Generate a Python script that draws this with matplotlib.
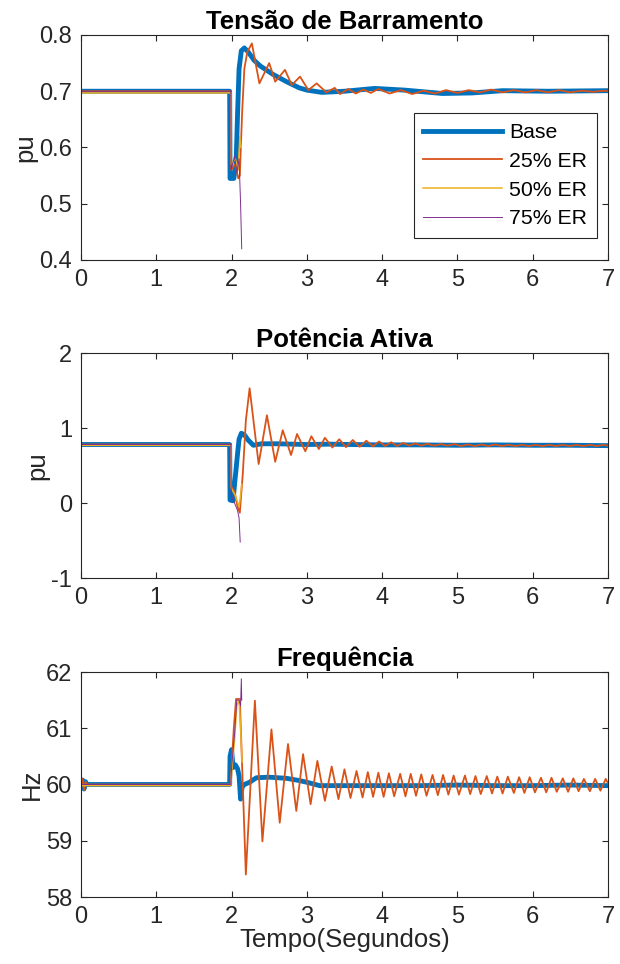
import matplotlib
matplotlib.use("Agg")
import matplotlib.pyplot as plt

plt.rcParams['font.family'] = ['Liberation Sans', 'DejaVu Sans']
plt.rcParams['axes.unicode_minus'] = False

KOLORS = ['#0072BD', '#D95319', '#EDB120', '#7E2F8E']
LABELS = ['Base', '25% ER', '50% ER', '75% ER']
WIDTHS = [3.5, 1.3, 1.1, 0.7]

# ---- Tensao de Barramento (pu) ----
v_base_t = [0, 1.975, 1.98, 2.03, 2.06, 2.08, 2.10, 2.13, 2.17, 2.22,
            2.30, 2.38, 2.55, 2.73, 2.9, 3.0, 3.2, 3.5, 3.9, 4.3,
            4.8, 5.2, 5.6, 6.2, 7.0]
v_base = [0.70, 0.70, 0.545, 0.545, 0.57, 0.66, 0.74, 0.772, 0.777, 0.77,
          0.755, 0.745, 0.73, 0.717, 0.706, 0.702, 0.698, 0.700, 0.705, 0.702,
          0.696, 0.697, 0.701, 0.700, 0.701]
v_25_t = [0, 1.99, 1.995, 2.05, 2.09, 2.11, 2.14, 2.17, 2.21, 2.27,
          2.37, 2.50, 2.58, 2.71, 2.80, 2.91, 3.02, 3.13, 3.26, 3.37,
          3.44, 3.55, 3.65, 3.75, 3.85, 3.95, 4.1, 4.25, 4.4, 4.55,
          4.7, 4.85, 5.0, 5.15, 5.3, 5.45, 5.6, 5.75, 5.9, 6.05,
          6.2, 6.35, 6.5, 6.65, 6.8, 6.95, 7.0]
v_25 = [0.70, 0.70, 0.56, 0.57, 0.545, 0.55, 0.66, 0.74, 0.77, 0.785,
        0.714, 0.75, 0.717, 0.738, 0.711, 0.726, 0.702, 0.714, 0.698, 0.706,
        0.695, 0.704, 0.696, 0.703, 0.697, 0.704, 0.696, 0.702, 0.695, 0.701,
        0.696, 0.702, 0.697, 0.702, 0.698, 0.703, 0.698, 0.702, 0.698, 0.702,
        0.698, 0.702, 0.698, 0.701, 0.699, 0.701, 0.70]
v_50_t = [0, 1.99, 1.995, 2.05, 2.09, 2.11, 2.125]
v_50 = [0.697, 0.697, 0.57, 0.58, 0.56, 0.62, 0.60]
v_75_t = [0, 1.99, 1.995, 2.04, 2.07, 2.10, 2.12, 2.135]
v_75 = [0.70, 0.70, 0.56, 0.585, 0.555, 0.58, 0.50, 0.42]

# ---- Potencia Ativa (pu) ----
p_base_t = [0, 1.975, 1.98, 2.02, 2.04, 2.06, 2.08, 2.10, 2.13, 2.17,
            2.22, 2.29, 2.4, 2.6, 2.8, 3.0, 3.3, 3.6, 4.0, 4.5,
            5.0, 5.5, 6.0, 6.5, 7.0]
p_base = [0.78, 0.78, 0.04, 0.03, 0.25, 0.45, 0.66, 0.85, 0.93, 0.91,
          0.84, 0.77, 0.79, 0.79, 0.785, 0.78, 0.785, 0.78, 0.775, 0.775,
          0.77, 0.775, 0.77, 0.77, 0.765]
p_25_t = [0, 1.99, 1.995, 2.04, 2.08, 2.11, 2.15, 2.19, 2.24, 2.36,
          2.47, 2.58, 2.68, 2.79, 2.87, 2.98, 3.06, 3.16, 3.24, 3.34,
          3.43, 3.52, 3.61, 3.70, 3.79, 3.88, 3.96, 4.04, 4.12, 4.20,
          4.28, 4.36, 4.44, 4.52, 4.60, 4.69, 4.78, 4.87, 4.96, 5.05,
          5.14, 5.23, 5.32, 5.41, 5.50, 5.59, 5.68, 5.77, 5.86, 5.95,
          6.04, 6.13, 6.22, 6.31, 6.40, 6.49, 6.58, 6.67, 6.76, 6.85,
          6.94, 7.0]
p_25 = [0.78, 0.78, 0.22, 0.15, -0.05, -0.13, 0.40, 1.10, 1.53, 0.52,
        1.17, 0.55, 0.97, 0.64, 0.92, 0.69, 0.89, 0.72, 0.87, 0.74,
        0.85, 0.745, 0.84, 0.75, 0.83, 0.755, 0.82, 0.76, 0.81, 0.76,
        0.80, 0.765, 0.795, 0.765, 0.79, 0.765, 0.785, 0.765, 0.785, 0.76,
        0.78, 0.76, 0.78, 0.76, 0.78, 0.76, 0.775, 0.76, 0.775, 0.76,
        0.775, 0.76, 0.775, 0.76, 0.775, 0.76, 0.775, 0.76, 0.775, 0.76,
        0.775, 0.765]
p_50_t = [0, 1.99, 1.995, 2.05, 2.10, 2.12, 2.135]
p_50 = [0.77, 0.77, 0.20, 0.10, -0.05, 0.10, 0.25]
p_75_t = [0, 1.99, 1.995, 2.04, 2.08, 2.10, 2.115]
p_75 = [0.78, 0.78, 0.10, 0.0, -0.10, -0.20, -0.52]

# ---- Frequencia (Hz) ----
f_base_t = [0, 0.02, 0.04, 0.06, 0.08, 1.975, 1.98, 2.00, 2.02, 2.05,
            2.08, 2.10, 2.12, 2.14, 2.17, 2.24, 2.33, 2.5, 2.73, 2.9,
            3.0, 3.17, 3.5, 4.0, 4.5, 5.0, 5.5, 6.0, 6.5, 7.0]
f_base = [60.0, 60.08, 59.92, 60.05, 60.0, 60.0, 60.5, 60.62, 60.3, 60.35,
          60.28, 60.15, 59.74, 59.95, 60.0, 60.04, 60.12, 60.13, 60.11, 60.07,
          60.04, 59.98, 59.98, 59.98, 59.98, 59.99, 59.98, 59.98, 59.99, 59.98]
f_25_t = [0, 0.02, 0.04, 0.06, 0.08, 1.99, 2.00, 2.03, 2.06, 2.11,
          2.19, 2.31, 2.41, 2.53, 2.64, 2.75, 2.86, 2.95, 3.05, 3.14,
          3.24, 3.33, 3.42, 3.50, 3.58, 3.66, 3.74, 3.81, 3.88, 3.95,
          4.02, 4.09, 4.16, 4.24, 4.31, 4.38, 4.45, 4.52, 4.59, 4.67,
          4.74, 4.81, 4.88, 4.95, 5.02, 5.10, 5.17, 5.24, 5.31, 5.39,
          5.46, 5.53, 5.60, 5.67, 5.75, 5.82, 5.89, 5.96, 6.03, 6.11,
          6.18, 6.25, 6.32, 6.40, 6.47, 6.54, 6.61, 6.68, 6.76, 6.83,
          6.90, 6.97, 7.0]
f_25 = [60.0, 60.1, 59.9, 60.05, 60.0, 60.0, 60.3, 61.0, 61.52, 61.52,
        58.40, 61.49, 58.99, 60.98, 59.32, 60.72, 59.53, 60.54, 59.65, 60.42,
        59.71, 60.32, 59.74, 60.27, 59.76, 60.24, 59.77, 60.22, 59.78, 60.21,
        59.78, 60.20, 59.79, 60.19, 59.79, 60.19, 59.80, 60.18, 59.80, 60.17,
        59.81, 60.17, 59.82, 60.16, 59.82, 60.16, 59.83, 60.15, 59.83, 60.15,
        59.84, 60.14, 59.84, 60.14, 59.85, 60.13, 59.85, 60.13, 59.86, 60.12,
        59.86, 60.12, 59.87, 60.11, 59.87, 60.11, 59.88, 60.10, 59.88, 60.10,
        59.89, 60.10, 60.02]
f_50_t = [0, 1.99, 2.0, 2.04, 2.07, 2.10, 2.12, 2.14]
f_50 = [59.98, 59.98, 60.2, 60.8, 61.4, 61.5, 61.0, 60.4]
f_75_t = [0, 1.99, 2.0, 2.04, 2.07, 2.10, 2.12, 2.13, 2.135]
f_75 = [60.0, 60.0, 60.3, 60.9, 61.5, 61.5, 61.4, 61.88, 61.5]

panels = [
    ("Tensão de Barramento", "pu", (0.4, 0.8), [0.4, 0.5, 0.6, 0.7, 0.8],
     [(v_base_t, v_base), (v_25_t, v_25), (v_50_t, v_50), (v_75_t, v_75)]),
    ("Potência Ativa", "pu", (-1, 2), [-1, 0, 1, 2],
     [(p_base_t, p_base), (p_25_t, p_25), (p_50_t, p_50), (p_75_t, p_75)]),
    ("Frequência", "Hz", (58, 62), [58, 59, 60, 61, 62],
     [(f_base_t, f_base), (f_25_t, f_25), (f_50_t, f_50), (f_75_t, f_75)]),
]
bottoms = [0.7303, 0.4004, 0.0695]

fig = plt.figure(figsize=(6.2, 9.64), dpi=100)
axes = []
for (title, ylab, ylim, yticks, series), b in zip(panels, bottoms):
    ax = fig.add_axes([0.1306, b, 0.85, 0.2334])
    for k, (t, y) in enumerate(series):
        ax.plot(t, y, c=KOLORS[k], lw=WIDTHS[k], label=LABELS[k])
    ax.set_xlim(0, 7)
    ax.set_ylim(*ylim)
    ax.set_xticks(range(8))
    ax.set_yticks(yticks)
    ax.set_title(title, fontsize=18.5, fontweight='bold', color='k', pad=4)
    ax.set_ylabel(ylab, fontsize=18.5, color='#262626', labelpad=1)
    ax.tick_params(direction='in', top=True, right=True, labelsize=17,
                   colors='#262626', length=4, width=0.8, pad=6.5)
    for s in ax.spines.values():
        s.set_color('#262626')
        s.set_linewidth(0.8)
    axes.append(ax)

axes[-1].set_xlabel("Tempo(Segundos)", fontsize=18.5, color='#262626', labelpad=0)
leg = axes[0].legend(loc='lower right', bbox_to_anchor=(0.979, 0.098),
                     fontsize=15.3, fancybox=False, framealpha=1,
                     edgecolor='#262626', handlelength=3.7, labelspacing=0.46,
                     borderpad=0.45, handletextpad=0.35, borderaxespad=0)
leg.get_frame().set_linewidth(0.8)

plt.savefig('out.png', dpi=100)
